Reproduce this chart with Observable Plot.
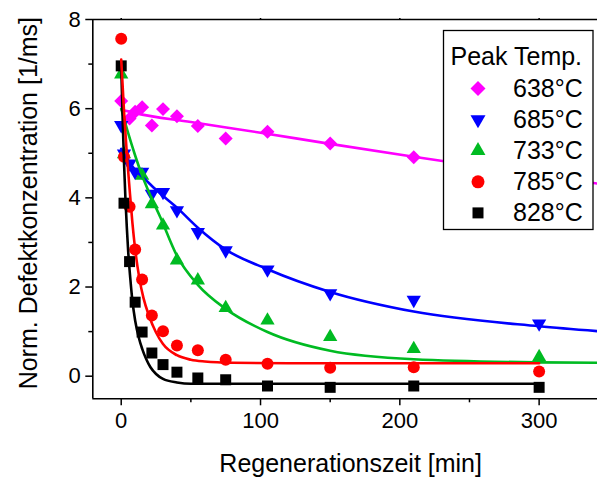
<!DOCTYPE html>
<html><head><meta charset="utf-8">
<script src="https://cdn.jsdelivr.net/npm/d3@7"></script>
<script src="https://cdn.jsdelivr.net/npm/@observablehq/plot@0.6"></script>
<style>
html,body{margin:0;padding:0;background:#fff;}
#chart svg{display:block;}
</style>
</head><body><div id="chart"></div>
<script>
// ---- data ----
const times = [0, 2, 6, 10, 15, 22, 30, 40, 55, 75, 105, 150, 210, 300];
const v638 = [6.17, null, 5.78, 5.93, 6.03, 5.62, 5.99, 5.83, 5.61, 5.33, 5.48, 5.22, 4.91, null];
const v685 = [5.63, 4.99, 4.77, 4.58, 4.58, 4.09, 4.13, 3.72, 3.23, 2.82, 2.39, 1.86, 1.71, 1.18];
const v733 = [6.77, 4.98, null, null, 4.50, 3.86, 3.38, 2.60, 2.15, 1.53, 1.25, 0.88, 0.61, 0.43];
const v785 = [7.57, 4.92, 3.80, 2.84, 2.17, 1.36, 1.01, 0.69, 0.58, 0.37, 0.28, 0.19, 0.20, 0.105];
const v828 = [6.96, 3.88, 2.57, 1.66, 0.99, 0.52, 0.26, 0.09, -0.04, -0.08, -0.22, -0.25, -0.22, -0.25];

// fit curves
const fitT638 = [0, 10, 50, 100, 150, 210, 280, 342];
const fitY638 = [5.98, 5.90, 5.70, 5.46, 5.21, 4.92, 4.60, 4.32];
const fitT685 = [0, 5, 10, 17, 25, 40, 55, 75, 105, 150, 210, 300, 342];
const fitY685 = [5.10, 4.84, 4.63, 4.42, 4.18, 3.78, 3.33, 2.84, 2.40, 1.89, 1.45, 1.12, 1.01];
const fitT733 = [0, 5, 10, 15, 20, 28, 40, 55, 75, 105, 150, 210, 300, 342];
const fitY733 = [6.00, 5.45, 4.95, 4.50, 4.12, 3.57, 2.70, 2.05, 1.51, 0.99, 0.57, 0.38, 0.31, 0.30];
const fitT785 = [0, 2, 4, 6, 8, 10, 13, 16, 20, 25, 30, 40, 50, 60, 80, 120, 300];
const fitY785 = [7.10, 5.95, 5.00, 4.20, 3.45, 2.85, 2.20, 1.75, 1.35, 0.98, 0.72, 0.47, 0.37, 0.33, 0.30, 0.29, 0.29];
const fitT828 = [0, 1, 2, 3, 4, 5, 6.5, 8, 10, 12.5, 15, 18, 21, 25, 30, 40, 50, 300];
const fitY828 = [6.95, 5.80, 4.80, 4.00, 3.35, 2.80, 2.20, 1.70, 1.25, 0.88, 0.62, 0.38, 0.20, 0.05, -0.06, -0.14, -0.17, -0.17];

const seriesNames = ["638°C", "685°C", "733°C", "785°C", "828°C"];
const legendTitle = "Peak Temp.";
const xLabel = "Regenerationszeit [min]";
const yLabel = "Norm. Defektkonzentration [1/ms]";
const xTicks = [0, 100, 200, 300];
const xMinor = [50, 150, 250];
const yTicks = [0, 2, 4, 6, 8];
const yMinor = [1, 3, 5, 7];
const xDomain = [-20.4, 341.9];
const yDomain = [-0.507, 8];

// ---- styles ----
const colors = ["#ff00ff", "#0000ff", "#00bb22", "#ff0000", "#000000"];
const symbols = ["diamond2", "triangle", "triangle", "circle", "square"];
const rotations = [0, 180, 0, 0, 0];
const radii = [6.3, 5.3, 5.3, 6, 6.2];
const FONT = "'Liberation Sans', Arial, Helvetica, sans-serif";

const values = [v638, v685, v733, v785, v828];
const fits = [[fitT638, fitY638], [fitT685, fitY685], [fitT733, fitY733], [fitT785, fitY785], [fitT828, fitY828]];

const pointRows = values.map((vals, i) => times.map((t, j) => ({t, v: vals[j], s: seriesNames[i]})).filter(d => d.v != null));
const fitRows = fits.map(([ts, ys], i) => ts.map((t, j) => ({t, v: ys[j], s: seriesNames[i]})));

const marks = [];
// points
pointRows.forEach((rows, i) => {
  marks.push(Plot.dot(rows, {x: "t", y: "v", symbol: symbols[i], r: radii[i], fill: colors[i], stroke: "none", rotate: rotations[i]}));
});
// fit lines
[0, 1, 2, 4, 3].forEach(i => {
  marks.push(Plot.line(fitRows[i], {x: "t", y: "v", stroke: colors[i], strokeWidth: 2.6, curve: "monotone-x", clip: true}));
});
// axes
marks.push(
  Plot.axisX({ticks: xTicks, tickSize: 7, tickPadding: 7, strokeWidth: 1.5, label: null, fontSize: 22}),
  Plot.axisX({ticks: xMinor, tickSize: 4, strokeWidth: 1.5, text: null, label: null}),
  Plot.axisX({anchor: "top", ticks: xTicks, tickSize: 2, strokeWidth: 1.5, text: null, label: null}),
  Plot.axisY({ticks: yTicks, tickSize: 7, tickPadding: 5, strokeWidth: 1.5, label: null, fontSize: 22}),
  Plot.axisY({ticks: yMinor, tickSize: 4, strokeWidth: 1.5, text: null, label: null}),
  Plot.ruleX([xDomain[0]], {strokeWidth: 1.6}),
  Plot.ruleY([yDomain[0], yDomain[1]], {strokeWidth: 1.6}),
  Plot.text([xLabel], {frameAnchor: "bottom", dx: 5.5, dy: 65, fontSize: 25, lineAnchor: "middle", textAnchor: "middle", fill: "black"}),
  Plot.text([yLabel], {frameAnchor: "left", rotate: -90, dx: -64, dy: -6, fontSize: 25, lineAnchor: "middle", textAnchor: "middle", fill: "black"})
);

const chart = Plot.plot({
  width: 597,
  height: 478,
  marginLeft: 92.3,
  marginRight: 0,
  marginTop: 19,
  marginBottom: 79.7,
  x: {domain: xDomain},
  y: {domain: yDomain},
  style: {fontFamily: FONT, fontSize: "22px", color: "black", background: "white", overflow: "visible"},
  marks
});
document.getElementById("chart").appendChild(chart);

// ---- legend ----
const svg = d3.select(chart);
const lg = svg.append("g").attr("font-family", FONT).attr("fill", "black").attr("text-anchor", "start");
lg.append("rect").attr("x", 443.5).attr("y", 30.5).attr("width", 149.5).attr("height", 199)
  .attr("fill", "white").attr("stroke", "black").attr("stroke-width", 1.3);
lg.append("text").attr("x", 450.5).attr("y", 65).attr("font-size", 25).attr("text-anchor", "start").text(legendTitle);
const legSym = [d3.symbolDiamond2, d3.symbolTriangle, d3.symbolTriangle, d3.symbolCircle, d3.symbolSquare];
const legSize = [143, 97, 97, 133, 121];
seriesNames.forEach((name, i) => {
  const cy = 88.5 + 31.1 * i;
  lg.append("path")
    .attr("d", d3.symbol(legSym[i], legSize[i])())
    .attr("transform", `translate(478,${cy}) rotate(${rotations[i]})`)
    .attr("fill", colors[i]);
  lg.append("text").attr("x", 513).attr("y", cy + 8.4).attr("font-size", 25).attr("text-anchor", "start").text(name);
});
</script>
</body></html>
